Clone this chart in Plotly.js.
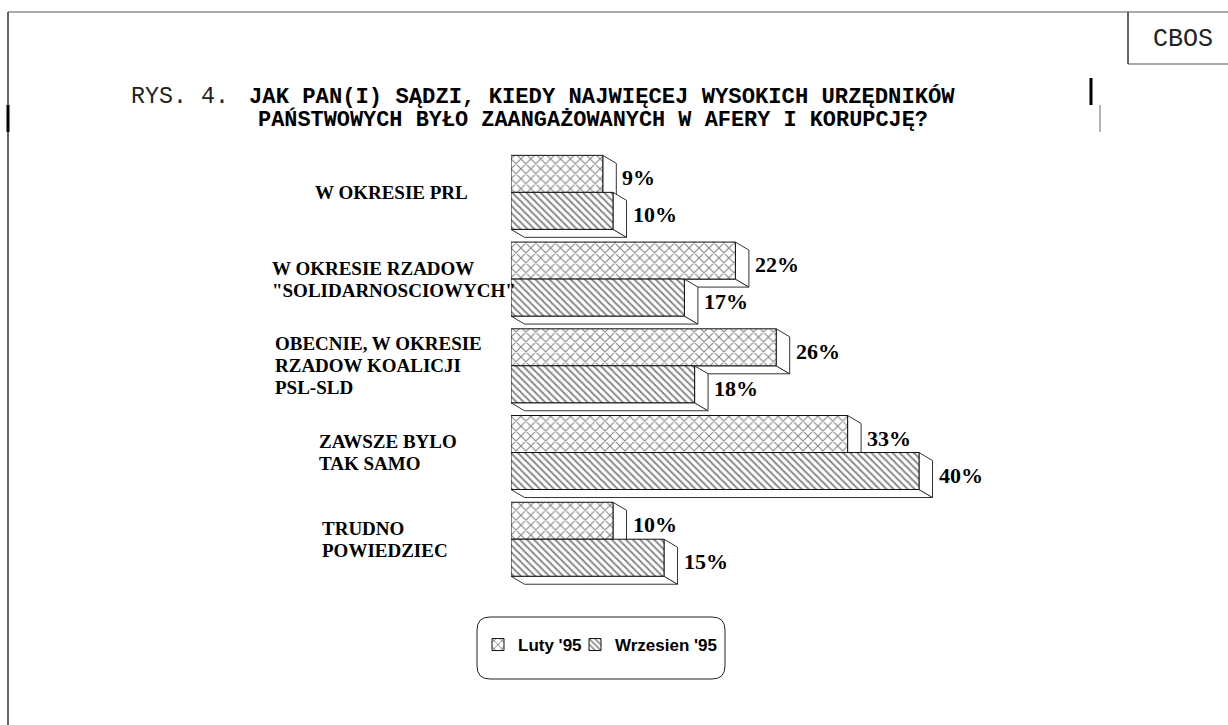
<!DOCTYPE html>
<html><head><meta charset="utf-8">
<script src="https://cdn.plot.ly/plotly-3.0.1.min.js"></script>
<style>html,body{margin:0;padding:0;background:#fff}#chart{width:1228px;height:725px}</style>
</head><body><div id="chart"></div>
<script>
// ---- data ----
const categories = ["W OKRESIE PRL", "W OKRESIE RZADOW<br>\"SOLIDARNOSCIOWYCH\"", "OBECNIE, W OKRESIE<br>RZADOW KOALICJI<br>PSL-SLD", "ZAWSZE BYLO<br>TAK SAMO", "TRUDNO<br>POWIEDZIEC"];
const lutyValues = [9, 22, 26, 33, 10];
const wrzesienValues = [10, 17, 18, 40, 15];
const seriesNames = ["Luty '95", "Wrzesien '95"];
const titleLead = "RYS. 4.";
const titleLine1 = "JAK PAN(I) SĄDZI, KIEDY NAJWIĘCEJ WYSOKICH URZĘDNIKÓW";
const titleLine2 = "PAŃSTWOWYCH BYŁO ZAANGAŻOWANYCH W AFERY I KORUPCJĘ?";
const sourceLabel = "CBOS";

// ---- layout geometry / style ----
const W = 1228, H = 725;
const M = {l: 511, r: 207, t: 149, b: 132};
const plotW = W - M.l - M.r, plotH = H - M.t - M.b;
const xRange = [0, 50];
const yRange = [4.62, -0.5];
const bargap = 0.147;
const barW = (1 - bargap) / 2;
const pxPerX = plotW / (xRange[1] - xRange[0]);
const pxPerY = plotH / (yRange[0] - yRange[1]);
const depthX = 13.5 / pxPerX, depthY = 8 / pxPerY;
const fx = p => (p - M.l) / plotW;
const fy = p => (H - M.b - p) / plotH;
const labelLeftPx = [313, 270, 273, 317, 320];
const ink = '#111';
const serif = 'Liberation Serif, Times New Roman, serif';
const mono = 'Liberation Mono, Courier New, monospace';

const series = [
  {name: seriesNames[0], values: lutyValues, pattern: {shape: 'x', size: 7, solidity: 0.3}, offset: -barW / 2, legendwidth: 52},
  {name: seriesNames[1], values: wrzesienValues, pattern: {shape: '\\', size: 5, solidity: 0.4}, offset: barW / 2, legendwidth: 110}
];

const traces = series.map(s => ({
  type: 'bar', orientation: 'h', name: s.name,
  y: categories, x: s.values,
  legendwidth: s.legendwidth,
  marker: {color: 'white', line: {color: ink, width: 1},
    pattern: Object.assign({fgcolor: ink, bgcolor: 'white', fillmode: 'overlay'}, s.pattern)},
  hoverinfo: 'skip'
}));

// 3D side / bottom faces, computed from data values
const shapes = [];
const annotations = [];
categories.forEach((c, i) => {
  series.forEach(s => {
    const v = s.values[i];
    const yc = i + s.offset;
    const yt = yc - barW / 2, yb = yc + barW / 2;
    const poly = pts => 'M' + pts.map(p => p[0] + ',' + p[1]).join('L') + 'Z';
    shapes.push({type: 'path', xref: 'x', yref: 'y', layer: 'below',
      path: poly([[0, yb], [v, yb], [v + depthX, yb + depthY], [depthX, yb + depthY]]),
      fillcolor: 'white', line: {color: '#333', width: 1}});
    shapes.push({type: 'path', xref: 'x', yref: 'y', layer: 'below',
      path: poly([[v, yt], [v + depthX, yt + depthY], [v + depthX, yb + depthY], [v, yb]]),
      fillcolor: 'white', line: {color: '#333', width: 1}});
    annotations.push({xref: 'x', yref: 'y', x: v + depthX, y: yc + depthY / 2,
      text: '<b>' + v + '%</b>', showarrow: false, xanchor: 'left', yanchor: 'middle', xshift: 4,
      font: {family: serif, size: 22, color: '#000'}});
  });
  // category labels, one annotation per line
  const lines = c.split('<br>');
  lines.forEach((ln, k) => {
    annotations.push({xref: 'paper', yref: 'y', x: fx(labelLeftPx[i]), y: i,
      text: '<b>' + ln + '</b>', showarrow: false, xanchor: 'left', yanchor: 'middle',
      yshift: ((lines.length - 1) / 2 - k) * 22,
      font: {family: serif, size: 19, color: '#000'}});
  });
});

// titles
annotations.push({xref: 'paper', yref: 'paper', x: fx(129), y: fy(97), xanchor: 'left', yanchor: 'middle',
  text: titleLead, showarrow: false, font: {family: mono, size: 23.3, color: '#222'}});
annotations.push({xref: 'paper', yref: 'paper', x: fx(247), y: fy(97), xanchor: 'left', yanchor: 'middle',
  text: '<b>' + titleLine1 + '</b>', showarrow: false, font: {family: mono, size: 22.2, color: '#000'}});
annotations.push({xref: 'paper', yref: 'paper', x: fx(256), y: fy(120), xanchor: 'left', yanchor: 'middle',
  text: '<b>' + titleLine2 + '</b>', showarrow: false, font: {family: mono, size: 21.9, color: '#000'}});
annotations.push({xref: 'paper', yref: 'paper', x: fx(1183), y: fy(40), xanchor: 'center', yanchor: 'middle',
  text: sourceLabel, showarrow: false, font: {family: mono, size: 25, color: '#222'}});

// frame lines (paper)
const pline = (x0, y0, x1, y1, w, col) => ({type: 'line', xref: 'paper', yref: 'paper',
  x0: fx(x0), y0: fy(y0), x1: fx(x1), y1: fy(y1), line: {color: col || '#444', width: w || 1}});
shapes.push(pline(8, 12, 1228, 12, 1, '#555'));
shapes.push(pline(8, 12, 8, 725, 1.5, '#333'));
shapes.push(pline(1128, 12, 1128, 64, 1.5, '#333'));
shapes.push(pline(1128, 64, 1228, 64, 1, '#555'));
shapes.push(pline(8, 105, 8, 132, 3, '#000'));
shapes.push(pline(1091, 78, 1091, 105, 3, '#000'));
shapes.push(pline(1100, 105, 1100, 132, 1, '#666'));

// rounded legend box
(function () {
  const x0 = 477, x1 = 725, y0 = 617, y1 = 679, r = 13;
  const P = (x, y) => fx(x) + ',' + fy(y);
  const path = 'M' + P(x0 + r, y0) + 'L' + P(x1 - r, y0) + 'Q' + P(x1, y0) + ' ' + P(x1, y0 + r) +
    'L' + P(x1, y1 - r) + 'Q' + P(x1, y1) + ' ' + P(x1 - r, y1) +
    'L' + P(x0 + r, y1) + 'Q' + P(x0, y1) + ' ' + P(x0, y1 - r) +
    'L' + P(x0, y0 + r) + 'Q' + P(x0, y0) + ' ' + P(x0 + r, y0) + 'Z';
  shapes.push({type: 'path', xref: 'paper', yref: 'paper', path: path,
    fillcolor: 'rgba(0,0,0,0)', line: {color: '#222', width: 1}});
})();

const layout = {
  width: W, height: H,
  margin: {l: M.l, r: M.r, t: M.t, b: M.b, pad: 0},
  paper_bgcolor: 'white', plot_bgcolor: 'white',
  barmode: 'group', bargap: bargap, bargroupgap: 0,
  xaxis: {range: xRange, visible: false, fixedrange: true},
  yaxis: {type: 'category', range: yRange, visible: false, fixedrange: true},
  showlegend: true,
  legend: {orientation: 'h', x: fx(478), xanchor: 'left', y: fy(645), yanchor: 'middle',
    bgcolor: 'rgba(0,0,0,0)', borderwidth: 0, traceorder: 'normal',
    font: {family: 'Liberation Sans, Arial, sans-serif', size: 17, color: '#000', weight: 'bold'}},
  shapes: shapes,
  annotations: annotations
};

Plotly.newPlot('chart', traces, layout, {displayModeBar: false, staticPlot: true});
</script>
</body></html>
